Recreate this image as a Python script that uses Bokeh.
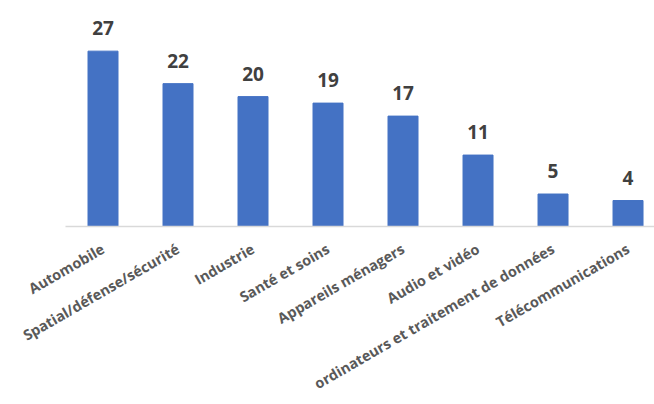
import math
from bokeh.plotting import figure
from bokeh.models import Range1d, FixedTicker, ColumnDataSource
from bokeh.core.properties import value
from bokeh.embed import file_html
from bokeh.resources import INLINE

categories = ["Automobile", "Spatial/défense/sécurité", "Industrie", "Santé et soins",
              "Appareils ménagers", "Audio et vidéo",
              "ordinateurs et traitement de données", "Télécommunications"]
values = [27, 22, 20, 19, 17, 11, 5, 4]

idx = list(range(len(categories)))
src = ColumnDataSource(dict(x=idx, top=values, label=[str(v) for v in values]))

p = figure(width=654, height=404, output_backend="svg", toolbar_location=None,
           x_range=Range1d(-0.5, 7.353), y_range=Range1d(0, 34.8),
           min_border_left=65, min_border_right=0, min_border_top=0, min_border_bottom=177)
p.outline_line_color = None
p.grid.visible = False
p.yaxis.visible = False

p.vbar(x="x", top="top", width=0.4, color="#4472C4", source=src)
p.text(x="x", y="top", text="label", source=src, text_align="center",
       text_baseline="alphabetic", y_offset=-23,
       text_font=value("Open Sans"), text_font_style="bold",
       text_font_size="19px", text_color="#404040")

ax = p.xaxis[0]
ax.ticker = FixedTicker(ticks=idx)
ax.major_label_overrides = {i: c for i, c in zip(idx, categories)}
ax.major_label_orientation = math.pi / 6
ax.major_tick_line_color = None
ax.minor_tick_line_color = None
ax.axis_line_color = "#d9d9d9"
ax.axis_line_width = 1.5
ax.major_label_standoff = 15
ax.major_label_text_font = "Open Sans"
ax.major_label_text_font_style = "bold"
ax.major_label_text_font_size = "14.5px"
ax.major_label_text_color = "#595959"

open("out.html", "w").write(file_html(p, INLINE))
